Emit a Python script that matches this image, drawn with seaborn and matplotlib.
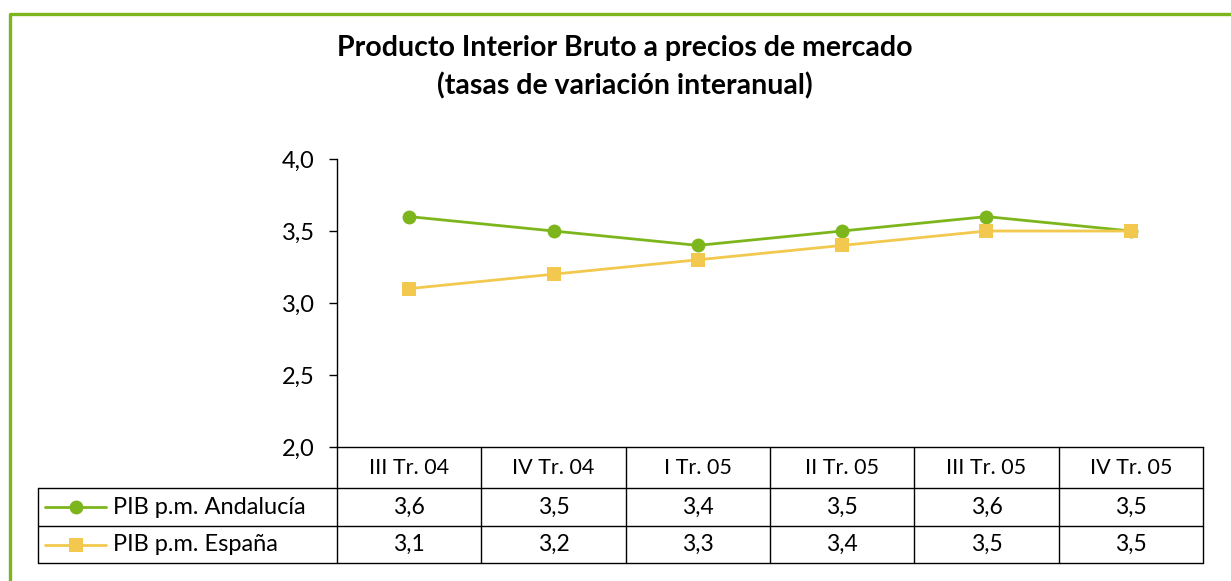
import matplotlib
matplotlib.use("Agg")
import matplotlib.pyplot as plt
import matplotlib.transforms as mtransforms
from matplotlib.lines import Line2D
import seaborn as sns
import pandas as pd

# ---- data ----
categories = ["III Tr. 04", "IV Tr. 04", "I Tr. 05", "II Tr. 05", "III Tr. 05", "IV Tr. 05"]
andalucia = [3.6, 3.5, 3.4, 3.5, 3.6, 3.5]
espana = [3.1, 3.2, 3.3, 3.4, 3.5, 3.5]
series_names = ["PIB p.m. Andalucía", "PIB p.m. España"]
yticks = [2.0, 2.5, 3.0, 3.5, 4.0]
title = "Producto Interior Bruto a precios de mercado\n(tasas de variación interanual)"

GREEN = "#7DB61C"
YELLOW = "#F2C94E"

sns.set_theme(style="white")
plt.rcParams["font.family"] = ["Lato", "DejaVu Sans"]

df = pd.DataFrame({
    "x": list(range(len(categories))) * 2,
    "valor": andalucia + espana,
    "serie": [series_names[0]] * len(categories) + [series_names[1]] * len(categories),
})

W, H = 1231, 581
fig = plt.figure(figsize=(W / 100, H / 100), dpi=100)
ax = fig.add_axes([337 / W, 1 - 447 / H, (1203 - 337) / W, (447 - 159) / H])

sns.lineplot(data=df, x="x", y="valor", hue="serie", style="serie",
             markers={series_names[0]: "o", series_names[1]: "s"},
             dashes=False, palette={series_names[0]: GREEN, series_names[1]: YELLOW},
             markersize=10, markeredgewidth=0, linewidth=2, ax=ax, legend=False)

ax.set_xlim(-0.5, len(categories) - 0.5)
ax.set_ylim(yticks[0], yticks[-1])
ax.set_yticks(yticks)
ax.set_yticklabels([f"{v:.1f}".replace(".", ",") for v in yticks], fontsize=17)
ax.set_xticks([])
ax.set_xlabel("")
ax.set_ylabel("")
for s in ["top", "right"]:
    ax.spines[s].set_visible(False)
ax.spines["left"].set_color("black")
ax.spines["bottom"].set_color("black")
ax.spines["left"].set_linewidth(1.0)
ax.spines["bottom"].set_linewidth(1.0)
ax.tick_params(axis="y", left=True, length=6, width=1, color="black", pad=10, labelcolor="black")

# ---- data table ----
tr = mtransforms.blended_transform_factory(ax.transData, ax.transAxes)
n = len(categories)
y_h = -41 / 288
y_r1 = -79 / 288
y_r2 = -116 / 288
x_left = -0.5 + (38 - 337) / ((1203 - 337) / n)
lk = dict(color="black", lw=1.0, transform=tr, clip_on=False)
for yy in (y_h, y_r1, y_r2):
    ax.plot([x_left, n - 0.5], [yy, yy], **lk)
ax.plot([x_left, x_left], [y_h, y_r2], **lk)
for k in range(n + 1):
    ax.plot([k - 0.5, k - 0.5], [0, y_r2], **lk)

for i, c in enumerate(categories):
    ax.text(i, y_h / 2, c, transform=tr, ha="center", va="center", fontsize=15.5, color="black")
    ax.text(i, (y_h + y_r1) / 2, f"{andalucia[i]:.1f}".replace(".", ","), transform=tr,
            ha="center", va="center", fontsize=16.5, color="black")
    ax.text(i, (y_r1 + y_r2) / 2, f"{espana[i]:.1f}".replace(".", ","), transform=tr,
            ha="center", va="center", fontsize=16.5, color="black")

px = (1203 - 337) / n
def dx(p):
    return -0.5 + (p - 337) / px

for yy, col, mk, name in [((y_h + y_r1) / 2, GREEN, "o", series_names[0]),
                          ((y_r1 + y_r2) / 2, YELLOW, "s", series_names[1])]:
    ax.plot([dx(45), dx(106)], [yy, yy], color=col, lw=2, transform=tr, clip_on=False)
    ax.plot([dx(76)], [yy], marker=mk, color=col, markersize=10, markeredgewidth=0,
            transform=tr, clip_on=False)
    ax.text(dx(113), yy, name, transform=tr, ha="left", va="center", fontsize=17, color="black")

# ---- title ----
fig.text(625 / W, 1 - 67 / H, title, ha="center", va="center", fontsize=20.5,
         fontweight="bold", color="black", linespacing=1.5)

# ---- green border (top and left) ----
fig.add_artist(Line2D([9.5 / W, 9.5 / W, 1.0], [0.0, 1 - 14 / H, 1 - 14 / H],
                      transform=fig.transFigure, color=GREEN, lw=2.4))

fig.savefig("out.png", dpi=100)
